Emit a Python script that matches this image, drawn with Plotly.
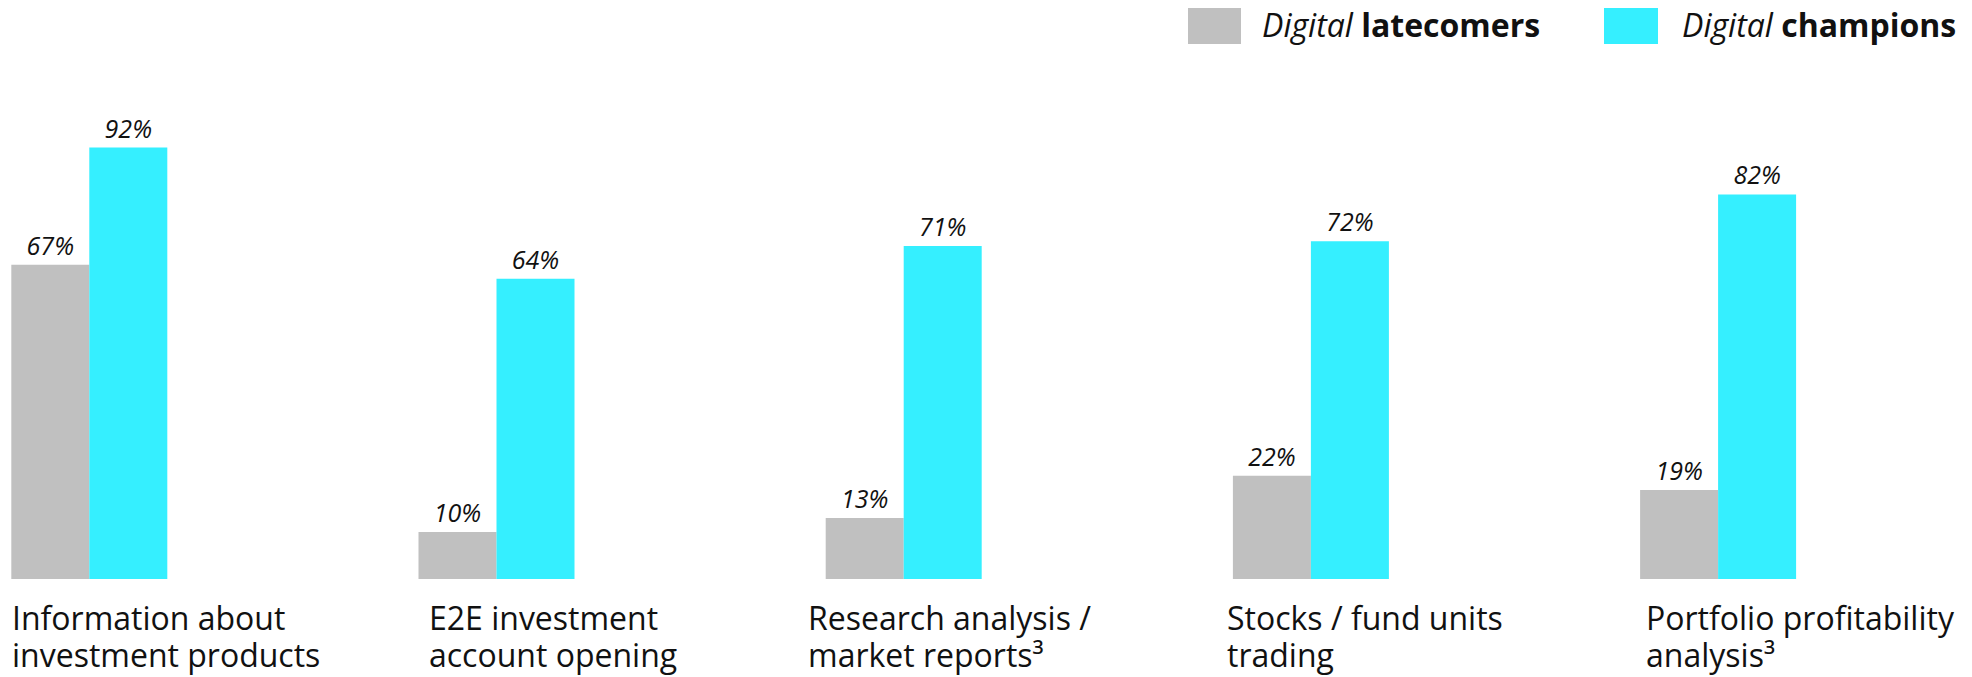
import plotly.graph_objects as go

line1 = [
    "Information about",
    "E2E investment",
    "Research analysis /",
    "Stocks / fund units",
    "Portfolio profitability",
]
line2 = [
    "investment products",
    "account opening",
    "market reports³",
    "trading",
    "analysis³",
]
latecomers = [67, 10, 13, 22, 19]
champions = [92, 64, 71, 72, 82]
series_names = ["latecomers", "champions"]
colors = ["#C0C0C0", "#35EFFF"]

# layout: horizontal nudge (px) of each category label from its bar's left edge
label_dx = [0, 9, -19, -7, 5]

# page body has an 8px margin; figure coords = page coords - 8
OFF = 8
W, H = 1972 - OFF, 677 - OFF
BASE = 579 - OFF          # bar baseline in figure pixels
x = list(range(len(line1)))
unit = 407.2
bar_w = 78 / unit
c0 = 89.3 - OFF

fig = go.Figure()
for vals, name, col in zip([latecomers, champions], series_names, colors):
    fig.add_trace(go.Bar(
        x=x, y=vals, name=name, marker=dict(color=col, line=dict(width=0)),
        texttemplate="<i>%{y}%</i>", textposition="outside", cliponaxis=False,
        textfont=dict(family="Open Sans", size=25, color="#111111"),
    ))

for i in x:
    for txt, shift in ((line1[i], -16), (line2[i], -53)):
        fig.add_annotation(
            x=i - bar_w, y=0, xref="x", yref="paper", xanchor="left", yanchor="top",
            xshift=label_dx[i], yshift=shift, text=txt, showarrow=False,
            align="left", borderpad=0,
            font=dict(family="Open Sans", size=32, color="#111111"),
        )

def py(p):
    return (BASE - (p - OFF)) / BASE

def px(p):
    return (p - OFF) / W

legend_items = [
    (1188, 1241, 1261, "<i>Digital</i> <b>latecomers</b>", colors[0]),
    (1604, 1658, 1681, "<i>Digital</i> <b>champions</b>", colors[1]),
]
for x0, x1, xt, txt, col in legend_items:
    fig.add_shape(type="rect", xref="paper", yref="paper",
                  x0=px(x0), x1=px(x1), y0=py(44), y1=py(8),
                  fillcolor=col, line=dict(width=0))
    fig.add_annotation(x=px(xt), y=py(24), xref="paper", yref="paper",
                       xanchor="left", yanchor="middle", text=txt, showarrow=False,
                       borderpad=0,
                       font=dict(family="Open Sans", size=32, color="#111111"))

fig.update_layout(
    width=W, height=H, barmode="group", bargap=1 - 156 / unit, bargroupgap=0,
    margin=dict(l=0, r=0, t=0, b=H - BASE),
    paper_bgcolor="white", plot_bgcolor="white", showlegend=False,
    xaxis=dict(range=[-c0 / unit, (W - c0) / unit], visible=False),
    yaxis=dict(range=[0, BASE / 469 * 100], visible=False),
)
fig.write_html("out.html")
